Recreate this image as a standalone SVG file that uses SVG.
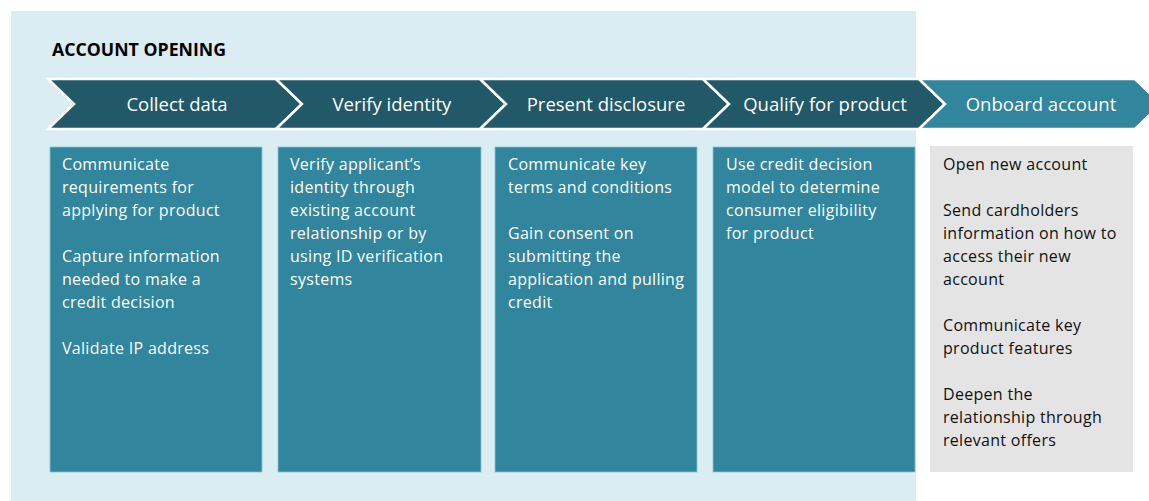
<svg xmlns="http://www.w3.org/2000/svg" width="1149" height="501" viewBox="0 0 1149 501">
<style>
.bg{fill:#DAEDF3}
.chev{fill:#215968;stroke:#FFFFFF;stroke-width:2.5;stroke-linejoin:miter}
.chev.light{fill:#31859C}
.lbl{font-family:"Open Sans","Liberation Sans",sans-serif;font-size:18.5px;fill:#FFFFFF;text-anchor:middle}
.box{fill:#31859C;stroke:#8CC3D3;stroke-width:0.8}
.gbox{fill:#E4E4E4}
.t{font-family:"Open Sans","Liberation Sans",sans-serif;font-size:16px;letter-spacing:0.3px;fill:#FFFFFF}
.t.dark{fill:#111111}
.title{font-family:"Open Sans","Liberation Sans",sans-serif;font-size:17.5px;font-weight:bold;fill:#000000}
</style>
<rect class="bg" x="11" y="11" width="905" height="490"/>
<text class="title" x="52" y="56" textLength="174" lengthAdjust="spacingAndGlyphs">ACCOUNT OPENING</text>
<g id="connectors"/>
<g id="step1">
<path class="chev" d="M48,79 L276,79 L302,104 L276,129 L48,129 L74,104 Z"/>
<text class="lbl" x="177" y="110.5">Collect data</text>
</g>
<g id="step2">
<path class="chev" d="M276,79 L480,79 L506,104 L480,129 L276,129 L302,104 Z"/>
<text class="lbl" x="392" y="110.5">Verify identity</text>
</g>
<g id="step3">
<path class="chev" d="M480,79 L703,79 L729,104 L703,129 L480,129 L506,104 Z"/>
<text class="lbl" x="606" y="110.5">Present disclosure</text>
</g>
<g id="step4">
<path class="chev" d="M703,79 L919,79 L945,104 L919,129 L703,129 L729,104 Z"/>
<text class="lbl" x="825" y="110.5">Qualify for product</text>
</g>
<g id="step5">
<path class="chev light" d="M919,79 L1135,79 L1161,104 L1135,129 L919,129 L945,104 Z"/>
<text class="lbl" x="1041" y="110.5">Onboard account</text>
</g>
<g id="box1">
<rect class="box" x="50" y="147" width="212" height="325"/>
<text class="t">
<tspan x="62" y="170">Communicate</tspan>
<tspan x="62" y="193">requirements for</tspan>
<tspan x="62" y="216">applying for product</tspan>
<tspan x="62" y="262">Capture information</tspan>
<tspan x="62" y="285">needed to make a</tspan>
<tspan x="62" y="308">credit decision</tspan>
<tspan x="62" y="354">Validate IP address</tspan>
</text>
</g>
<g id="box2">
<rect class="box" x="278" y="147" width="203" height="325"/>
<text class="t">
<tspan x="290" y="170">Verify applicant’s</tspan>
<tspan x="290" y="193">identity through</tspan>
<tspan x="290" y="216">existing account</tspan>
<tspan x="290" y="239">relationship or by</tspan>
<tspan x="290" y="262">using ID verification</tspan>
<tspan x="290" y="285">systems</tspan>
</text>
</g>
<g id="box3">
<rect class="box" x="495" y="147" width="202" height="325"/>
<text class="t">
<tspan x="508" y="170">Communicate key</tspan>
<tspan x="508" y="193">terms and conditions</tspan>
<tspan x="508" y="239">Gain consent on</tspan>
<tspan x="508" y="262">submitting the</tspan>
<tspan x="508" y="285">application and pulling</tspan>
<tspan x="508" y="308">credit</tspan>
</text>
</g>
<g id="box4">
<rect class="box" x="713" y="147" width="202" height="325"/>
<text class="t">
<tspan x="726" y="170">Use credit decision</tspan>
<tspan x="726" y="193">model to determine</tspan>
<tspan x="726" y="216">consumer eligibility</tspan>
<tspan x="726" y="239">for product</tspan>
</text>
</g>
<g id="box5">
<rect class="gbox" x="930" y="146" width="203" height="326"/>
<text class="t dark">
<tspan x="943" y="170">Open new account</tspan>
<tspan x="943" y="216">Send cardholders</tspan>
<tspan x="943" y="239">information on how to</tspan>
<tspan x="943" y="262">access their new</tspan>
<tspan x="943" y="285">account</tspan>
<tspan x="943" y="331">Communicate key</tspan>
<tspan x="943" y="354">product features</tspan>
<tspan x="943" y="400">Deepen the</tspan>
<tspan x="943" y="423">relationship through</tspan>
<tspan x="943" y="446">relevant offers</tspan>
</text>
</g>
</svg>
